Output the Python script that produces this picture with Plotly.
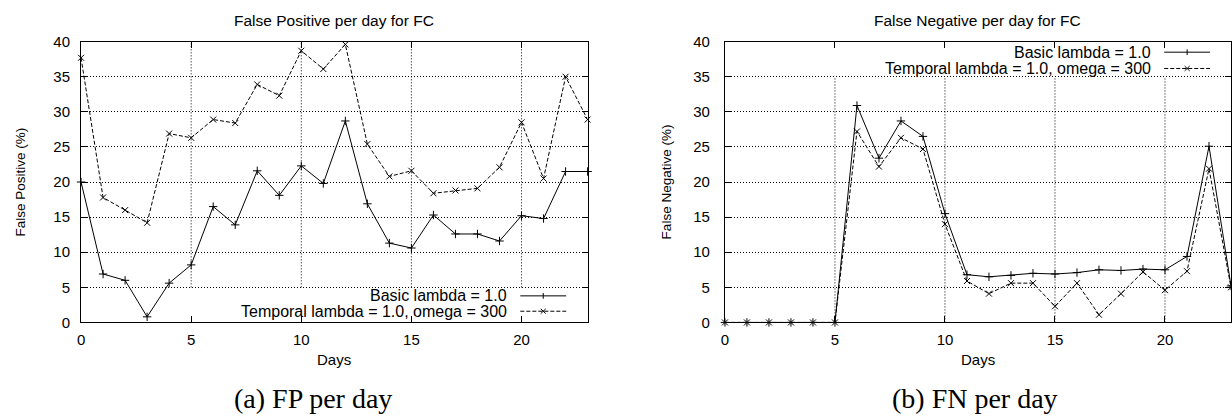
import plotly.graph_objects as go

W, H = 1232, 419

days = list(range(24))
fp_basic = [20.0, 6.9, 6.0, 0.8, 5.6, 8.2, 16.5, 13.9, 21.6, 18.1, 22.3, 19.8,
            28.7, 16.9, 11.3, 10.6, 15.3, 12.6, 12.6, 11.6, 15.2, 14.8, 21.5, 21.5]
fp_temporal = [37.7, 17.8, 16.0, 14.2, 26.9, 26.3, 28.9, 28.4, 33.9, 32.3, 38.7, 36.1,
               39.6, 25.4, 20.8, 21.6, 18.4, 18.8, 19.1, 22.1, 28.5, 20.5, 35.0, 28.9]
fn_basic = [0, 0, 0, 0, 0, 0, 30.9, 23.4, 28.7, 26.5, 15.5, 6.8,
            6.5, 6.7, 7.0, 6.9, 7.1, 7.5, 7.4, 7.6, 7.5, 9.4, 25.1, 5.2]
fn_temporal = [0, 0, 0, 0, 0, 0, 27.2, 22.2, 26.3, 24.7, 14.0, 5.9,
               4.1, 5.6, 5.6, 2.3, 5.6, 1.1, 4.1, 7.2, 4.6, 7.3, 21.9, 5.0]

x_ticks = [0, 5, 10, 15, 20]
y_ticks = [0, 5, 10, 15, 20, 25, 30, 35, 40]
series_names = ["Basic lambda = 1.0", "Temporal lambda = 1.0, omega = 300"]
titles = ["False Positive per day for FC", "False Negative per day for FC"]
y_titles = ["False Positive (%)", "False Negative (%)"]
x_title = "Days"
captions = ["(a) FP per day", "(b) FN per day"]

SANS = "Liberation Sans, Arial, sans-serif"
SERIF = "Liberation Serif, Times New Roman, serif"
DASH = "4px,2px"
GRID = "#000"
GRID_DASH = "1px,2px"


def px(x):
    return x / W


def py(y):
    return 1 - y / H


fig = go.Figure()

panels = [
    dict(xa="x", ya="y", basic=fp_basic, temp=fp_temporal),
    dict(xa="x2", ya="y2", basic=fn_basic, temp=fn_temporal),
]

for p in panels:
    fig.add_trace(go.Scatter(
        x=days, y=p["basic"], xaxis=p["xa"], yaxis=p["ya"], mode="lines+markers",
        line=dict(color="black", width=1),
        marker=dict(symbol="cross-thin", size=6, color="black",
                    line=dict(color="black", width=1)),
        cliponaxis=False, showlegend=False, name=series_names[0]))
    fig.add_trace(go.Scatter(
        x=days, y=p["temp"], xaxis=p["xa"], yaxis=p["ya"], mode="lines+markers",
        line=dict(color="black", width=1, dash=DASH),
        marker=dict(symbol="x-thin", size=6, color="black",
                    line=dict(color="black", width=1)),
        cliponaxis=False, showlegend=False, name=series_names[1]))

# plot-area pixel geometry
left_dom = [77.3, 585.5]
right_dom = [723.3, 1231.0]
y_top, y_bot = 34.0, 326.7

axis_common = dict(
    showline=True, linecolor="black", linewidth=1, mirror="allticks",
    ticks="inside", ticklen=6, tickcolor="black", tickwidth=1,
    tickfont=dict(family=SANS, size=15, color="black"),
    zeroline=False,
)

fig.update_layout(
    width=W, height=H, autosize=False,
    margin=dict(l=0, r=0, t=0, b=0),
    paper_bgcolor="white", plot_bgcolor="white",
    xaxis=dict(domain=[px(left_dom[0]), px(left_dom[1])], range=[0, 23],
               tickvals=x_ticks, showgrid=False, anchor="y",
               ticklabelstandoff=4, **axis_common),
    yaxis=dict(domain=[py(y_bot), py(y_top)], range=[0, 40], tickvals=y_ticks,
               showgrid=True, gridcolor=GRID, gridwidth=1, griddash=GRID_DASH,
               anchor="x", ticklabelstandoff=7, **axis_common),
    xaxis2=dict(domain=[px(right_dom[0]), px(right_dom[1])], range=[0, 23],
                tickvals=x_ticks, showgrid=False, anchor="y2",
                ticklabelstandoff=4, **axis_common),
    yaxis2=dict(domain=[py(y_bot), py(y_top)], range=[0, 40], tickvals=y_ticks,
                showgrid=True, gridcolor=GRID, gridwidth=1, griddash=GRID_DASH,
                anchor="x2", ticklabelstandoff=11, **axis_common),
)

shapes = []
# vertical grid lines (interrupted by key band, as in gnuplot output)
for xv in x_ticks[1:]:
    shapes.append(dict(type="line", xref="x", yref="y", x0=xv, x1=xv, y0=5, y1=40,
                       line=dict(color=GRID, width=1, dash=GRID_DASH), layer="below"))
    shapes.append(dict(type="line", xref="x2", yref="y2", x0=xv, x1=xv, y0=0, y1=35,
                       line=dict(color=GRID, width=1, dash=GRID_DASH), layer="below"))

annotations = []

# legends (gnuplot style: text right-aligned, sample on the right)
legends = [
    dict(text_right=507, s0=518, s1=564, mx=541, ys=[299, 315]),
    dict(text_right=1153, s0=1164, s1=1210, mx=1187, ys=[45, 62]),
]
for lg in legends:
    for i, yv in enumerate(lg["ys"]):
        annotations.append(dict(
            x=px(lg["text_right"]), y=py(yv), xref="paper", yref="paper",
            text=series_names[i], showarrow=False, xanchor="right", yanchor="middle",
            font=dict(family=SANS, size=16, color="black")))
        shapes.append(dict(type="line", xref="paper", yref="paper",
                           x0=px(lg["s0"]), x1=px(lg["s1"]), y0=py(yv), y1=py(yv),
                           line=dict(color="black", width=1,
                                     dash="solid" if i == 0 else DASH)))
        m = lg["mx"]
        if i == 0:
            shapes.append(dict(type="line", xref="paper", yref="paper",
                               x0=px(m), x1=px(m), y0=py(yv - 3), y1=py(yv + 3),
                               line=dict(color="black", width=1)))
        else:
            for dy in (-1, 1):
                shapes.append(dict(type="line", xref="paper", yref="paper",
                                   x0=px(m - 2.5), x1=px(m + 2.5),
                                   y0=py(yv - 2.5 * dy), y1=py(yv + 2.5 * dy),
                                   line=dict(color="black", width=1)))

centers = [(left_dom[0] + left_dom[1]) / 2, (right_dom[0] + right_dom[1]) / 2]
ytitle_x = [16.5, 664.5]
caption_x = [310, 974]
for i in range(2):
    annotations.append(dict(
        x=px(centers[i]), y=py(12.5), xref="paper", yref="paper", text=titles[i],
        showarrow=False, xanchor="center", yanchor="middle",
        font=dict(family=SANS, size=15.5, color="black")))
    annotations.append(dict(
        x=px(centers[i]), y=py(365), xref="paper", yref="paper", text=x_title,
        showarrow=False, xanchor="center", yanchor="middle",
        font=dict(family=SANS, size=15, color="black")))
    annotations.append(dict(
        x=px(ytitle_x[i]), y=py((y_top + y_bot) / 2), xref="paper", yref="paper",
        text=y_titles[i], showarrow=False, textangle=-90,
        xanchor="center", yanchor="middle",
        font=dict(family=SANS, size=13.5, color="black")))
    annotations.append(dict(
        x=px(caption_x[i]), y=py(406), xref="paper", yref="paper", text=captions[i],
        showarrow=False, xanchor="center", yanchor="middle",
        font=dict(family=SERIF, size=28, color="black")))

fig.update_layout(shapes=shapes, annotations=annotations)

fig.write_html("out.html")
